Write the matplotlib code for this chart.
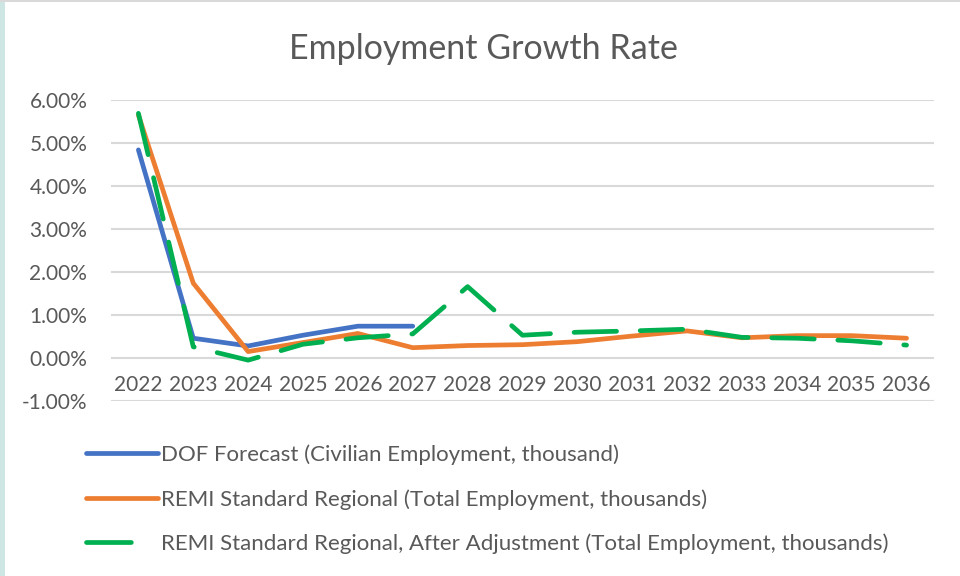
import matplotlib
matplotlib.use("Agg")
import matplotlib.pyplot as plt
from matplotlib.lines import Line2D
from matplotlib.patches import Rectangle

plt.rcParams['font.family'] = ['Lato', 'DejaVu Sans']

years = [str(y) for y in range(2022, 2037)]
dof_forecast = [4.84, 0.46, 0.28, 0.53, 0.74, 0.74]
remi_standard = [5.65, 1.74, 0.15, 0.36, 0.57, 0.24, 0.29, 0.31, 0.38, 0.51, 0.63, 0.47, 0.52, 0.52, 0.46]
remi_adjusted = [5.69, 0.26, -0.05, 0.32, 0.47, 0.56, 1.66, 0.53, 0.60, 0.63, 0.67, 0.48, 0.46, 0.40, 0.30]
y_ticks = [-1, 0, 1, 2, 3, 4, 5, 6]
series_labels = [
    "DOF Forecast (Civilian Employment, thousand)",
    "REMI Standard Regional (Total Employment, thousands)",
    "REMI Standard Regional, After Adjustment (Total Employment, thousands)",
]

BLUE = "#4472C4"
ORANGE = "#ED7D31"
GREEN = "#00B050"
TEXT = "#595959"
GRID = "#D9D9D9"

fig = plt.figure(figsize=(9.6, 5.76), dpi=100)
fig.patch.set_facecolor("white")

# thin frame around the chart area
fig.patches.append(Rectangle((0, 0), 0.005, 1, transform=fig.transFigure,
                             facecolor="#CDE6E4", edgecolor="none", zorder=0))
fig.patches.append(Rectangle((0, 0.996), 1, 0.004, transform=fig.transFigure,
                             facecolor="#D9D9D9", edgecolor="none", zorder=0))

ax = fig.add_axes([0.1156, 0.3038, 0.8573, 0.5226])
x_all = list(range(len(years)))

ax.plot(x_all[:len(dof_forecast)], dof_forecast, color=BLUE, lw=3.4,
        solid_capstyle="round", solid_joinstyle="round", zorder=3)
ax.plot(x_all, remi_standard, color=ORANGE, lw=3.4,
        solid_capstyle="round", solid_joinstyle="round", zorder=4)
ax.plot(x_all, remi_adjusted, color=GREEN, lw=3.4, dashes=(9, 5),
        dash_capstyle="round", dash_joinstyle="round", zorder=5)

ax.set_xlim(-0.5, len(years) - 0.5)
ax.set_ylim(-1, 6)
ax.set_yticks(y_ticks)
ax.set_yticklabels([f"{v:.2f}%" for v in y_ticks], color=TEXT, fontsize=15)
ax.tick_params(axis="y", length=0, pad=17)
ax.set_xticks([])
for s in ax.spines.values():
    s.set_visible(False)
ax.grid(axis="y", color=GRID, lw=1.5, zorder=0)
ax.set_axisbelow(True)

# category labels sit just below the zero line
for xi, lab in zip(x_all, years):
    ax.text(xi, -0.63, lab, ha="center", va="center", color=TEXT, fontsize=15)

fig.text(0.504, 0.915, "Employment Growth Rate", ha="center", va="center",
         color=TEXT, fontsize=24.5)

handles = [
    Line2D([], [], color=BLUE, lw=3.4, solid_capstyle="round"),
    Line2D([], [], color=ORANGE, lw=3.4, solid_capstyle="round"),
    Line2D([], [], color=GREEN, lw=3.4, dashes=(9.5, 7), dash_capstyle="round"),
]
fig.legend(handles, series_labels, loc="upper left", bbox_to_anchor=(0.090, 0.228),
           frameon=False, fontsize=16, labelcolor=TEXT, handlelength=3.2,
           handletextpad=0.15, labelspacing=1.07, borderaxespad=0, borderpad=0)

fig.savefig("out.png", dpi=100, facecolor="white")
